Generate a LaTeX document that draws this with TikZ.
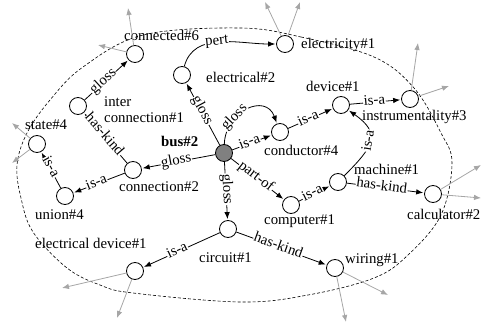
\documentclass[tikz,border=0pt]{standalone}
\usepackage{fontspec}
\setmainfont{Liberation Serif}
\usetikzlibrary{arrows.meta}
\begin{document}
\begin{tikzpicture}[x=1pt,y=-1pt,
  vtx/.style={circle, draw, line width=0.8pt, fill=white, minimum size=17pt, inner sep=0pt},
  txt/.style={anchor=west, inner sep=0pt, text height=1.45ex, text depth=0.3ex},
  rel/.style={draw, line width=0.8pt, -{Latex[length=7pt,width=5.5pt]}, shorten >=1pt},
  lbl/.style={sloped, fill=white, inner sep=0.6pt, text height=1.45ex, text depth=0.3ex},
  ext/.style={draw=black!35, line width=0.8pt, -{Latex[length=7pt,width=5.5pt]}},
  font=\fontsize{14.8}{16}\selectfont]
\useasboundingbox (0,0) rectangle (482,329);
% outer dashed boundary
\draw[dash pattern=on 3pt off 2pt, line width=0.6pt] plot[smooth cycle, tension=0.6] coordinates {
 (240,28) (301,37) (374,57) (414,88) (441,133) (452,163) (441,215) (408,255) (374,278)
 (308,295) (241,302) (133,293) (100,285) (67,268) (33,232) (21,198) (17,165) (27,133)
 (50,100) (83,67) (143,35)};
% free ends of outgoing gray arrows
\coordinate (g1) at (128,8);
\coordinate (g2) at (98,45);
\coordinate (g3) at (265,2);
\coordinate (g4) at (300,2);
\coordinate (g5) at (418,43);
\coordinate (g6) at (449,86);
\coordinate (g7) at (12,123);
\coordinate (g8) at (12,163);
\coordinate (g9) at (481,165);
\coordinate (g10) at (481,198);
\coordinate (g11) at (388,295);
\coordinate (g12) at (346,322);
\coordinate (g13) at (62,288);
\coordinate (g14) at (117,318);
% vertices
\node[vtx, fill=black!50] (bus) at (224,153) {};
\node[vtx] (connected) at (135,54) {};
\node[vtx] (electrical) at (182,75) {};
\node[vtx] (electricity) at (285,44) {};
\node[vtx] (inter) at (78,106) {};
\node[vtx] (state) at (37,144) {};
\node[vtx] (union) at (65,196) {};
\node[vtx] (connection) at (133,170) {};
\node[vtx] (device) at (341,105) {};
\node[vtx] (instr) at (410,99) {};
\node[vtx] (conductor) at (280,132) {};
\node[vtx] (machine) at (338,182) {};
\node[vtx] (computer) at (291,205) {};
\node[vtx] (calculator) at (433,194) {};
\node[vtx] (circuit) at (228,229) {};
\node[vtx] (elecdev) at (135,271) {};
\node[vtx] (wiring) at (335,268) {};
% vertex captions
\node[txt] (t1) at (124,38) {connected\#6};
\node[txt] (t2) at (301,46) {electricity\#1};
\node[txt] (t3) at (206,80) {electrical\#2};
\node[txt] (t4) at (104,104) {inter};
\node[txt] (t5) at (104,120) {connection\#1};
\node[txt] (t6) at (161,144) {\bfseries bus\#2};
\node[txt] (t7) at (25,127) {state\#4};
\node[txt] (t8) at (35,217) {union\#4};
\node[txt] (t9) at (119,189) {connection\#2};
\node[txt] (t10) at (35,246) {electrical device\#1};
\node[txt] (t11) at (199,260) {circuit\#1};
\node[txt] (t12) at (345,261) {wiring\#1};
\node[txt] (t13) at (407,217) {calculator\#2};
\node[txt] (t14) at (264,222) {computer\#1};
\node[txt] (t15) at (354,172) {machine\#1};
\node[txt] (t16) at (264,153) {conductor\#4};
\node[txt] (t17) at (306,89) {device\#1};
\node[txt] (t18) at (362,118) {instrumentality\#3};
% gray outgoing arrows
\draw[ext] (connected) -- (g1);
\draw[ext] (connected) -- (g2);
\draw[ext] (electricity) -- (g3);
\draw[ext] (electricity) -- (g4);
\draw[ext] (instr) -- (g5);
\draw[ext] (instr) -- (g6);
\draw[ext] (state) -- (g7);
\draw[ext] (state) -- (g8);
\draw[ext] (calculator) -- (g9);
\draw[ext] (calculator) -- (g10);
\draw[ext] (wiring) -- (g11);
\draw[ext] (wiring) -- (g12);
\draw[ext] (elecdev) -- (g13);
\draw[ext] (elecdev) -- (g14);
% relations
\draw[rel] (bus) -- node[lbl,pos=0.55] (l1) {gloss} (electrical);
\draw[rel] (bus) to[out=88,in=110,looseness=1.5] node[lbl,pos=0.32] (l2) {gloss} (conductor);
\draw[rel] (bus) -- node[lbl,pos=0.45] (l3) {is-a} (conductor);
\draw[rel] (bus) -- node[lbl,pos=0.53] (l4) {gloss} (connection);
\draw[rel] (bus) -- node[lbl,pos=0.46] (l5) {part-of} (computer);
\draw[rel] (bus) -- node[lbl,pos=0.47] (l6) {gloss} (circuit);
\draw[rel] (electrical) to[out=75,in=180] node[lbl,pos=0.47] (l7) {pert} (electricity);
\draw[rel] (inter) -- node[lbl,pos=0.44] (l8) {gloss} (connected);
\draw[rel] (connection) -- node[lbl,pos=0.55] (l9) {has-kind} (inter);
\draw[rel] (connection) -- node[lbl,pos=0.54] (l10) {is-a} (union);
\draw[rel] (union) -- node[lbl,pos=0.57] (l11) {is-a} (state);
\draw[rel] (conductor) -- node[lbl,pos=0.46] (l12) {is-a} (device);
\draw[rel] (device) -- node[lbl,pos=0.48] (l13) {is-a} (instr);
\draw[rel] (machine) to[out=45,in=-35,looseness=1.6] node[lbl,pos=0.5] (l14) {is-a} (device);
\draw[rel] (computer) -- node[lbl,pos=0.45] (l15) {is-a} (machine);
\draw[rel] (machine) -- node[lbl,pos=0.45] (l16) {has-kind} (calculator);
\draw[rel] (circuit) -- node[lbl,pos=0.55] (l17) {is-a} (elecdev);
\draw[rel] (circuit) -- node[lbl,pos=0.46] (l18) {has-kind} (wiring);
\end{tikzpicture}
\end{document}
